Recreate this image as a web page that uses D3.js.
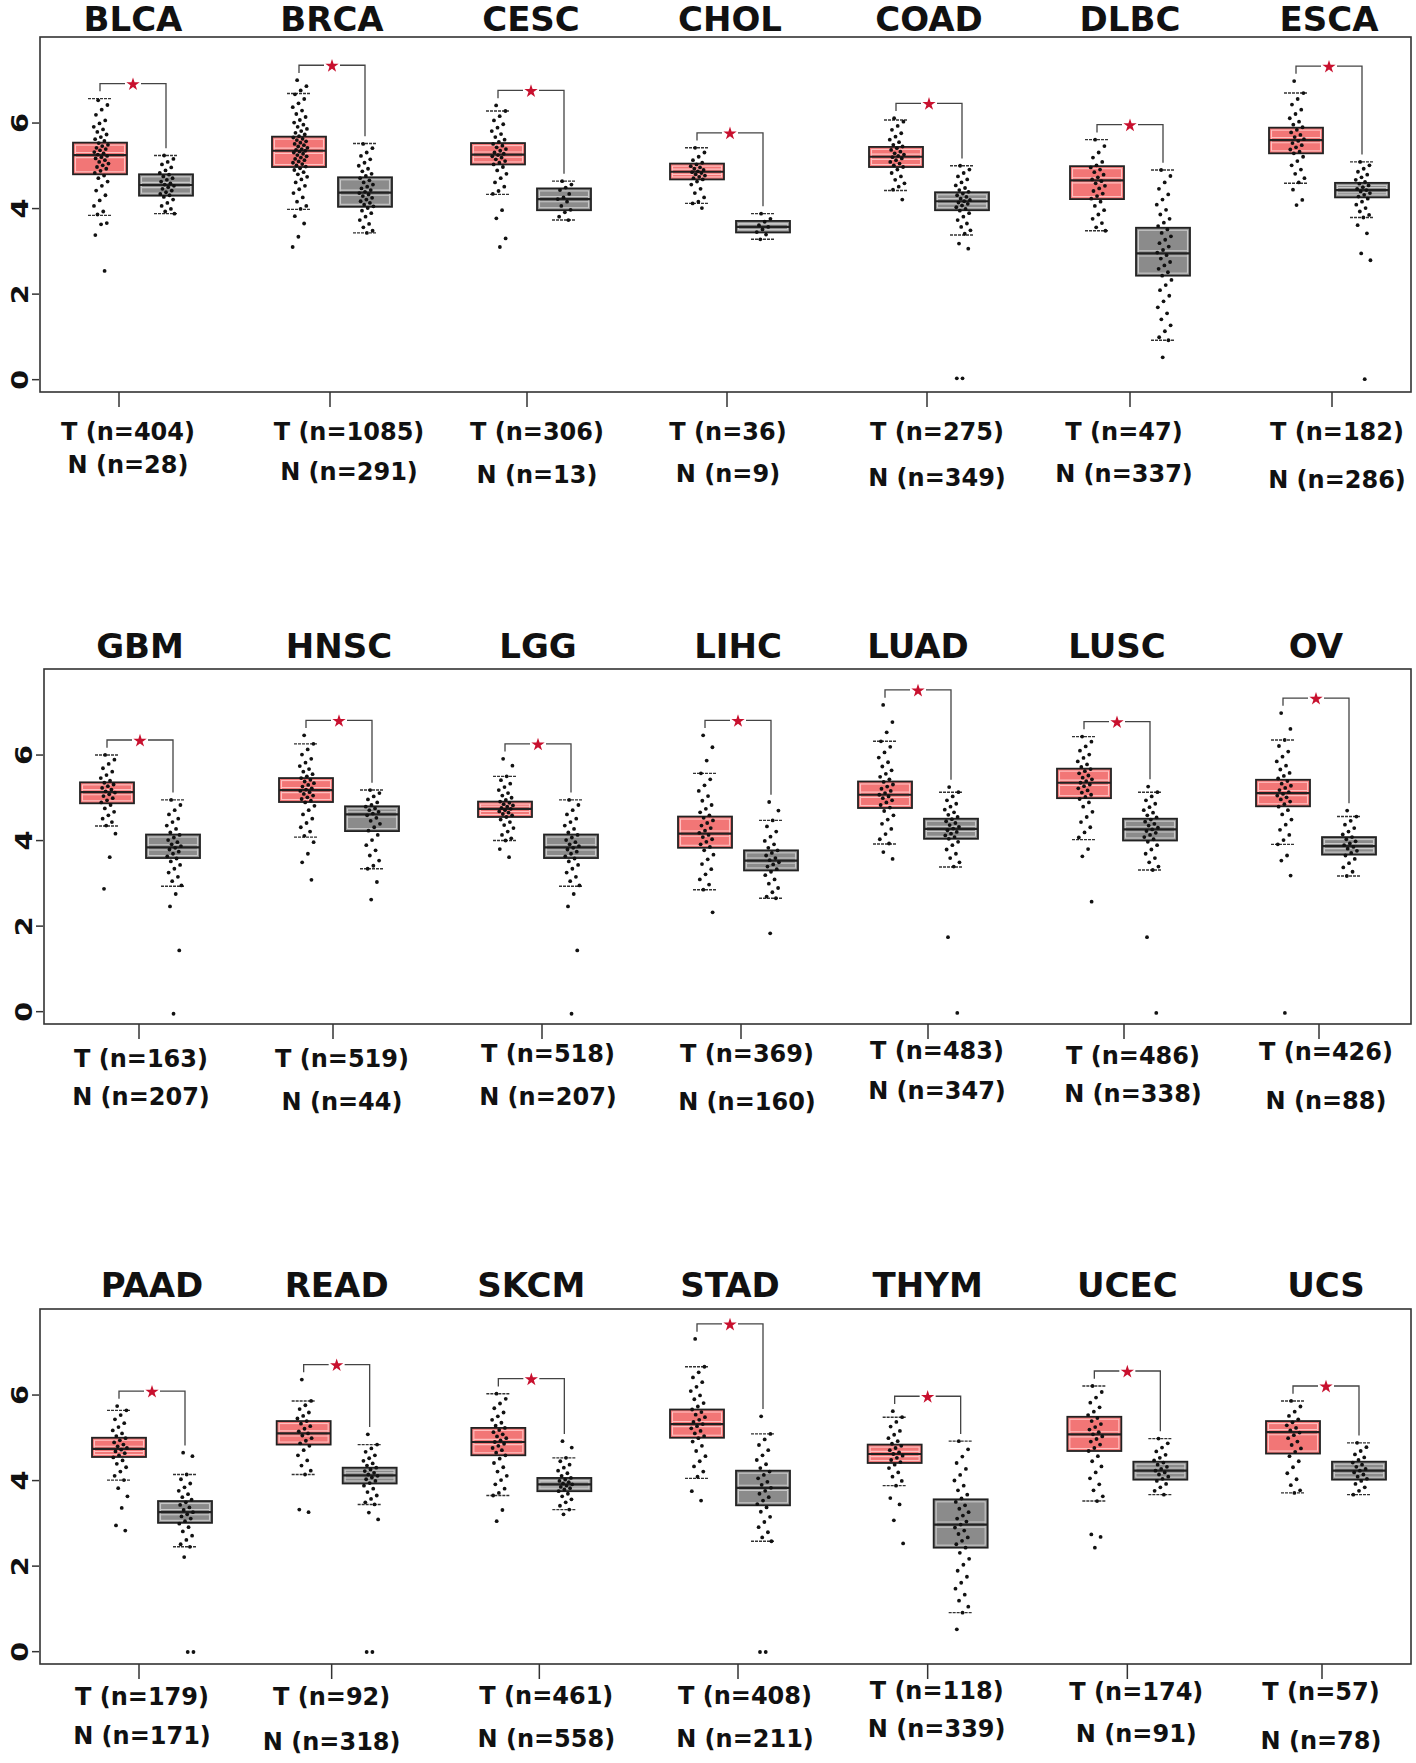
<!DOCTYPE html>
<html><head><meta charset="utf-8">
<script src="https://cdn.jsdelivr.net/npm/d3@7"></script>
<style>body{margin:0;background:#fff}svg{display:block}</style>
</head><body>
<script>
// ---------------- DATA ----------------
const cancers = ["BLCA","BRCA","CESC","CHOL","COAD","DLBC","ESCA",
                 "GBM","HNSC","LGG","LIHC","LUAD","LUSC","OV",
                 "PAAD","READ","SKCM","STAD","THYM","UCEC","UCS"];
const tumorN  = [404,1085,306,36,275,47,182,163,519,518,369,483,486,426,179,92,461,408,118,174,57];
const normalN = [28,291,13,9,349,337,286,207,44,207,160,347,338,88,171,318,558,211,339,91,78];
const yTickValues = [0,2,4,6];

// box stats: [lower whisker, Q1, median, Q3, upper whisker]
const tumorBox = [
 [3.83,4.79,5.24,5.53,6.56],[3.97,4.96,5.34,5.67,6.68],[4.32,5.02,5.25,5.52,6.27],[4.11,4.67,4.85,5.04,5.41],
 [4.41,4.96,5.20,5.43,6.06],[3.47,4.21,4.65,4.98,5.60],[4.58,5.28,5.59,5.88,6.69],
 [4.33,4.86,5.12,5.35,5.99],[4.07,4.89,5.17,5.45,6.25],[3.99,4.54,4.73,4.90,5.49],[2.84,3.82,4.15,4.55,5.56],
 [3.91,4.75,5.06,5.37,6.31],[4.01,4.98,5.34,5.67,6.42],[3.90,4.79,5.10,5.41,6.34],
 [4.00,4.54,4.73,4.99,5.63],[4.13,4.83,5.09,5.38,5.85],[3.64,4.58,4.89,5.22,6.02],[4.04,4.99,5.31,5.65,6.65],
 [3.87,4.40,4.61,4.83,5.47],[3.51,4.68,5.07,5.48,6.20],[3.70,4.62,5.12,5.38,5.85]];
const normalBox = [
 [3.87,4.29,4.54,4.79,5.23],[3.42,4.03,4.36,4.72,5.51],[3.72,3.95,4.21,4.46,4.63],[3.27,3.43,3.56,3.70,3.87],
 [3.37,3.95,4.16,4.37,4.99],[0.91,2.42,2.94,3.54,4.89],[3.78,4.25,4.42,4.59,5.08],
 [2.92,3.58,3.83,4.13,4.94],[3.33,4.21,4.60,4.79,5.17],[2.92,3.58,3.83,4.13,4.94],[2.64,3.29,3.52,3.76,4.46],
 [3.37,4.03,4.26,4.50,5.12],[3.30,3.99,4.25,4.50,5.12],[3.16,3.66,3.86,4.07,4.55],
 [2.44,3.00,3.25,3.51,4.13],[3.43,3.92,4.11,4.29,4.83],[3.31,3.74,3.90,4.05,4.52],[2.57,3.41,3.82,4.22,5.08],
 [0.90,2.42,2.96,3.55,4.91],[3.66,4.01,4.22,4.43,4.97],[3.66,4.01,4.22,4.43,4.87]];

// individual sample points
const tumorDots = [
 [6.52,6.41,6.30,6.18,6.05,5.98,5.90,5.84,5.78,5.72,5.66,5.61,5.57,5.52,5.48,5.45,5.41,5.38,5.35,5.31,5.28,5.25,5.22,5.19,5.16,5.12,5.08,5.04,5.00,4.96,4.92,4.87,4.82,4.76,4.70,4.62,4.52,4.41,4.30,4.18,4.05,3.92,3.85,3.65,3.62,3.37,2.53],
 [6.99,6.85,6.75,6.66,6.55,6.45,6.36,6.28,6.20,6.13,6.06,6.00,5.95,5.90,5.85,5.80,5.76,5.72,5.68,5.65,5.62,5.59,5.56,5.53,5.50,5.47,5.44,5.41,5.38,5.36,5.34,5.32,5.30,5.27,5.24,5.21,5.18,5.15,5.12,5.09,5.06,5.03,5.00,4.97,4.93,4.89,4.84,4.79,4.73,4.67,4.60,4.52,4.44,4.35,4.25,4.15,4.05,3.98,3.81,3.64,3.33,3.09],
 [6.40,6.27,6.15,6.05,5.96,5.88,5.80,5.73,5.66,5.60,5.55,5.50,5.46,5.42,5.38,5.34,5.30,5.27,5.24,5.21,5.18,5.14,5.10,5.06,5.02,4.96,4.88,4.80,4.70,4.60,4.50,4.40,4.33,3.95,3.76,3.29,3.09],
 [5.41,5.30,5.20,5.12,5.06,5.02,4.98,4.95,4.92,4.89,4.86,4.84,4.82,4.79,4.76,4.73,4.70,4.67,4.62,4.55,4.45,4.35,4.25,4.15,4.11,4.00],
 [6.10,6.02,5.92,5.83,5.75,5.67,5.60,5.54,5.48,5.44,5.40,5.36,5.32,5.28,5.25,5.22,5.19,5.16,5.12,5.08,5.04,5.00,4.96,4.90,4.82,4.74,4.66,4.58,4.50,4.43,4.20],
 [5.60,5.45,5.30,5.18,5.08,5.00,4.95,4.90,4.84,4.78,4.72,4.67,4.63,4.58,4.52,4.46,4.40,4.34,4.28,4.22,4.15,4.05,3.95,3.85,3.75,3.65,3.55,3.47],
 [6.97,6.69,6.55,6.42,6.30,6.20,6.10,6.02,5.95,5.89,5.83,5.77,5.71,5.66,5.61,5.57,5.52,5.47,5.42,5.37,5.32,5.28,5.20,5.10,5.00,4.90,4.80,4.70,4.60,4.43,4.19,4.07],
 [5.99,5.88,5.78,5.68,5.60,5.52,5.45,5.39,5.34,5.30,5.26,5.22,5.18,5.14,5.11,5.07,5.03,4.98,4.93,4.88,4.82,4.74,4.66,4.58,4.50,4.42,4.34,4.15,3.60,2.86],
 [6.45,6.25,6.12,6.00,5.90,5.81,5.73,5.66,5.60,5.54,5.49,5.45,5.41,5.37,5.33,5.29,5.25,5.21,5.18,5.15,5.12,5.08,5.04,5.00,4.96,4.92,4.88,4.80,4.70,4.60,4.50,4.40,4.30,4.20,4.10,3.95,3.68,3.48,3.07],
 [5.90,5.74,5.49,5.40,5.32,5.24,5.17,5.10,5.04,4.99,4.94,4.90,4.87,4.84,4.81,4.78,4.75,4.73,4.70,4.67,4.64,4.61,4.58,4.54,4.48,4.42,4.35,4.28,4.20,4.12,4.04,3.99,3.79,3.60],
 [6.45,6.17,5.86,5.56,5.42,5.28,5.15,5.03,4.92,4.82,4.73,4.65,4.58,4.52,4.46,4.40,4.34,4.28,4.22,4.17,4.12,4.07,4.02,3.96,3.90,3.84,3.76,3.66,3.55,3.44,3.32,3.20,3.08,2.96,2.84,2.31],
 [7.16,6.76,6.52,6.31,6.18,6.05,5.93,5.82,5.72,5.63,5.55,5.48,5.42,5.36,5.30,5.25,5.20,5.15,5.10,5.06,5.02,4.98,4.93,4.88,4.82,4.76,4.68,4.58,4.48,4.38,4.26,4.14,4.02,3.92,3.72,3.56],
 [6.42,6.30,6.19,6.09,6.00,5.92,5.84,5.77,5.71,5.66,5.61,5.56,5.51,5.46,5.42,5.38,5.34,5.30,5.26,5.21,5.16,5.11,5.06,5.01,4.96,4.88,4.78,4.66,4.54,4.42,4.30,4.18,4.06,3.79,3.62,2.56],
 [6.97,6.60,6.34,6.20,6.07,5.95,5.84,5.74,5.65,5.57,5.50,5.44,5.38,5.32,5.27,5.22,5.17,5.12,5.08,5.04,5.00,4.95,4.90,4.84,4.78,4.70,4.60,4.48,4.36,4.24,4.12,4.00,3.90,3.64,3.52,3.17,-0.04],
 [5.73,5.63,5.52,5.42,5.33,5.24,5.16,5.09,5.03,4.98,4.93,4.88,4.83,4.79,4.75,4.71,4.67,4.63,4.58,4.53,4.46,4.38,4.30,4.20,4.10,4.00,3.81,3.62,3.35,2.94,2.82],
 [6.35,5.85,5.75,5.66,5.58,5.50,5.44,5.38,5.32,5.26,5.20,5.14,5.09,5.04,4.98,4.92,4.86,4.80,4.70,4.58,4.46,4.34,4.22,4.13,3.31,3.25],
 [6.02,5.90,5.79,5.68,5.58,5.49,5.41,5.34,5.27,5.22,5.17,5.12,5.07,5.02,4.98,4.93,4.89,4.85,4.80,4.75,4.70,4.64,4.58,4.50,4.40,4.30,4.20,4.10,4.00,3.90,3.80,3.70,3.64,3.30,3.04],
 [7.30,6.65,6.52,6.40,6.29,6.18,6.08,5.98,5.89,5.80,5.72,5.65,5.59,5.53,5.47,5.41,5.36,5.31,5.26,5.21,5.15,5.09,5.03,4.98,4.90,4.80,4.68,4.56,4.44,4.32,4.20,4.08,3.74,3.52],
 [5.61,5.47,5.36,5.25,5.15,5.06,4.98,4.91,4.85,4.80,4.75,4.70,4.65,4.61,4.57,4.52,4.47,4.42,4.36,4.28,4.18,4.08,3.98,3.87,3.58,3.43,3.06,2.52],
 [6.20,6.06,5.93,5.81,5.70,5.60,5.52,5.45,5.38,5.31,5.24,5.18,5.12,5.07,5.02,4.96,4.90,4.83,4.75,4.68,4.56,4.44,4.32,4.18,4.04,3.90,3.76,3.62,3.51,2.73,2.67,2.42],
 [5.85,5.72,5.60,5.50,5.42,5.35,5.28,5.22,5.16,5.11,5.05,4.98,4.90,4.82,4.74,4.66,4.56,4.44,4.30,4.16,4.02,3.88,3.76,3.70]];
const normalDots = [
 [5.23,5.15,5.08,5.02,4.95,4.88,4.82,4.78,4.74,4.70,4.66,4.62,4.58,4.55,4.52,4.49,4.45,4.41,4.37,4.33,4.30,4.26,4.20,4.12,4.05,3.98,3.92,3.87],
 [5.50,5.40,5.30,5.22,5.14,5.06,4.99,4.92,4.86,4.80,4.75,4.70,4.65,4.60,4.55,4.50,4.46,4.42,4.38,4.35,4.32,4.28,4.24,4.20,4.16,4.12,4.08,4.04,4.00,3.94,3.88,3.80,3.72,3.63,3.55,3.47,3.42],
 [4.63,4.55,4.48,4.42,4.33,4.25,4.21,4.15,4.05,3.96,3.90,3.80,3.72],
 [3.87,3.75,3.68,3.60,3.56,3.50,3.44,3.38,3.27],
 [4.99,4.90,4.82,4.74,4.67,4.60,4.53,4.47,4.42,4.38,4.34,4.30,4.26,4.22,4.19,4.16,4.13,4.10,4.06,4.02,3.98,3.94,3.88,3.80,3.72,3.64,3.56,3.48,3.40,3.17,3.05,0.02,0.02],
 [4.89,4.75,4.60,4.45,4.32,4.20,4.08,3.96,3.85,3.75,3.66,3.58,3.50,3.42,3.34,3.26,3.18,3.10,3.02,2.96,2.90,2.82,2.74,2.66,2.58,2.50,2.42,2.32,2.20,2.08,1.95,1.82,1.68,1.54,1.40,1.26,1.12,0.98,0.91,0.51],
 [5.08,5.00,4.92,4.85,4.78,4.72,4.66,4.61,4.57,4.53,4.49,4.45,4.42,4.39,4.35,4.31,4.27,4.22,4.15,4.08,4.00,3.92,3.84,3.78,3.60,3.41,2.94,2.78,0.00],
 [4.94,4.82,4.70,4.60,4.50,4.42,4.34,4.26,4.18,4.12,4.06,4.00,3.95,3.90,3.86,3.82,3.78,3.73,3.68,3.62,3.57,3.50,3.42,3.33,3.24,3.14,3.04,2.94,2.74,2.45,1.42,-0.06],
 [5.17,5.10,5.02,4.95,4.88,4.82,4.78,4.74,4.70,4.66,4.62,4.58,4.52,4.45,4.38,4.30,4.22,4.12,4.00,3.88,3.76,3.64,3.52,3.40,3.33,3.02,2.61],
 [4.94,4.82,4.70,4.60,4.50,4.42,4.34,4.26,4.18,4.12,4.06,4.00,3.95,3.90,3.86,3.82,3.78,3.73,3.68,3.62,3.57,3.50,3.42,3.33,3.24,3.14,3.04,2.94,2.74,2.45,1.42,-0.06],
 [4.89,4.69,4.46,4.32,4.20,4.08,3.98,3.90,3.82,3.76,3.70,3.64,3.58,3.53,3.48,3.43,3.38,3.32,3.26,3.18,3.08,2.98,2.88,2.78,2.68,2.64,1.82],
 [5.24,5.12,5.02,4.93,4.85,4.78,4.71,4.65,4.59,4.54,4.49,4.44,4.40,4.35,4.31,4.27,4.23,4.19,4.15,4.11,4.07,4.03,3.96,3.88,3.78,3.68,3.58,3.48,3.38,1.73,-0.04],
 [5.25,5.12,5.02,4.93,4.85,4.77,4.70,4.64,4.58,4.53,4.48,4.43,4.38,4.34,4.29,4.25,4.21,4.17,4.12,4.07,4.02,3.96,3.88,3.78,3.68,3.58,3.48,3.38,3.30,1.73,-0.04],
 [4.69,4.55,4.45,4.36,4.28,4.20,4.13,4.07,4.02,3.97,3.92,3.88,3.84,3.80,3.75,3.70,3.64,3.56,3.46,3.36,3.26,3.16],
 [4.64,4.56,4.13,4.02,3.92,3.83,3.75,3.67,3.60,3.54,3.48,3.42,3.36,3.30,3.25,3.20,3.15,3.10,3.04,2.98,2.90,2.80,2.70,2.60,2.50,2.44,2.20,-0.02,-0.02],
 [5.07,4.83,4.74,4.66,4.58,4.51,4.45,4.39,4.34,4.29,4.25,4.21,4.17,4.13,4.10,4.06,4.02,3.98,3.93,3.87,3.80,3.72,3.64,3.56,3.48,3.43,3.24,3.08,-0.02,-0.02],
 [4.91,4.76,4.52,4.44,4.36,4.29,4.22,4.16,4.10,4.05,4.01,3.98,3.95,3.92,3.90,3.87,3.84,3.81,3.78,3.74,3.68,3.62,3.55,3.48,3.40,3.31,3.20],
 [5.49,5.08,4.95,4.82,4.70,4.58,4.47,4.37,4.28,4.20,4.12,4.04,3.96,3.89,3.82,3.75,3.68,3.60,3.52,3.44,3.36,3.26,3.14,3.02,2.90,2.78,2.66,2.57,-0.02,-0.02],
 [4.91,4.72,4.55,4.40,4.26,4.12,3.99,3.87,3.76,3.66,3.57,3.49,3.41,3.33,3.25,3.17,3.10,3.03,2.96,2.89,2.82,2.74,2.66,2.58,2.50,2.42,2.30,2.16,2.02,1.88,1.74,1.60,1.46,1.32,1.18,1.04,0.90,0.51],
 [4.97,4.86,4.76,4.67,4.59,4.52,4.46,4.41,4.36,4.31,4.26,4.22,4.18,4.13,4.08,4.03,3.98,3.91,3.83,3.75,3.66],
 [4.87,4.77,4.68,4.60,4.53,4.47,4.41,4.36,4.31,4.26,4.22,4.18,4.13,4.08,4.03,3.98,3.91,3.83,3.75,3.66]];

// ---------------- LAYOUT ----------------
const W = 1416, H = 1763;
const rows = [
  {top: 37,   left: 40, range: [133, 1327], titleY: 31,
   nudge: [0,0,0,0,0,2,2], tickDx: [-14,-2,-4,-3,-2,0,3], labelDx: [-5,17,6,-2,8,-6,8],
   tY: [440,440,440,440,440,440,440], nY: [473,480,483,482,486,482,488]},
  {top: 669,  left: 44, range: [140, 1316], titleY: 658,
   nudge: [0,3,6,10,-6,-3,0], tickDx: [-1,-6,4,3,10,7,3], labelDx: [1,3,10,9,19,16,10],
   tY: [1067,1067,1062,1062,1059,1064,1060], nY: [1105,1110,1105,1110,1099,1102,1109]},
  {top: 1309, left: 40, range: [140, 1326], titleY: 1297,
   nudge: [12,-1,-4,-3,-3,-1,0], tickDx: [-13,-5,8,8,0,0,-4], labelDx: [-10,-5,15,15,9,9,-5],
   tY: [1705,1705,1704,1704,1699,1700,1700], nY: [1744,1750,1747,1747,1737,1742,1749]}
];
const frameRight = 1411, frameH = 355;
const boxOff = 33, boxHalf = 27, capHalf = 12, jitter = 7.5;
const FONT = "'DejaVu Sans', 'Liberation Sans', sans-serif";
const tumorFill = "#f27676", tumorLight = "#ffc0c0";
const normalFill = "#8b8b8b", normalLight = "#c9c9c9";
const ink = "#222";

const svg = d3.select("body").append("svg").attr("width", W).attr("height", H)
  .style("font-family", FONT);
svg.append("rect").attr("width", W).attr("height", H).attr("fill", "#fff");

rows.forEach((row, r) => {
  const names = cancers.slice(r * 7, r * 7 + 7);
  const x = d3.scalePoint().domain(names).range(row.range);
  const y = d3.scaleLinear().domain([-0.3, 8]).range([row.top + frameH, row.top]);
  const g = svg.append("g");

  // frame
  g.append("rect").attr("x", row.left).attr("y", row.top)
    .attr("width", frameRight - row.left).attr("height", frameH)
    .attr("fill", "none").attr("stroke", "#333").attr("stroke-width", 1.6);

  // y axis
  const ax = g.append("g").attr("transform", `translate(${row.left - 1},0)`)
    .call(d3.axisLeft(y).tickValues(yTickValues).tickSize(7).tickFormat(d3.format("d")));
  ax.select(".domain").remove();
  ax.selectAll(".tick line").attr("stroke", "#333").attr("stroke-width", 1.5);
  ax.selectAll(".tick text")
    .attr("x", null).attr("dy", null).attr("y", null)
    .attr("transform", "translate(-11,0) rotate(-90)")
    .attr("text-anchor", "middle")
    .attr("font-family", FONT).attr("font-weight", "bold").attr("font-size", 23)
    .attr("fill", "#111")
    .attr("textLength", 20).attr("lengthAdjust", "spacingAndGlyphs");

  names.forEach((name, j) => {
    const k = r * 7 + j;
    const cx = x(name) + row.nudge[j];
    const groups = [
      {c: cx - boxOff, s: tumorBox[k], dots: tumorDots[k], fill: tumorFill, light: tumorLight},
      {c: cx + boxOff, s: normalBox[k], dots: normalDots[k], fill: normalFill, light: normalLight}
    ];
    // boxes
    groups.forEach(gr => {
      const [lo, q1, md, q3, hi] = gr.s;
      const bx = gr.c - boxHalf, bw = boxHalf * 2;
      g.append("rect").attr("x", bx).attr("y", y(q3)).attr("width", bw).attr("height", y(q1) - y(q3))
        .attr("fill", gr.fill).attr("stroke", ink).attr("stroke-width", 1.8);
      g.append("rect").attr("x", bx + 2.5).attr("y", y(q3) + 2.5).attr("width", bw - 5)
        .attr("height", Math.max(0, y(q1) - y(q3) - 5))
        .attr("fill", "none").attr("stroke", gr.light).attr("stroke-width", 1.1);
      [-2.6, 2.6].forEach(o => g.append("line").attr("x1", bx + 2.5).attr("x2", bx + bw - 2.5)
        .attr("y1", y(md) + o).attr("y2", y(md) + o).attr("stroke", gr.light).attr("stroke-width", 1.1));
      g.append("line").attr("x1", bx).attr("x2", bx + bw).attr("y1", y(md)).attr("y2", y(md))
        .attr("stroke", ink).attr("stroke-width", 2.2);
      [lo, hi].forEach(v => g.append("line").attr("x1", gr.c - capHalf).attr("x2", gr.c + capHalf)
        .attr("y1", y(v)).attr("y2", y(v)).attr("stroke", "#333").attr("stroke-width", 1.4)
        .attr("stroke-dasharray", "3,1"));
    });
    // dots
    groups.forEach(gr => {
      g.append("g").selectAll("circle").data(gr.dots).join("circle")
        .attr("cx", (d, i) => gr.c + 1 + (((i * 0.618034 + 0.31) % 1) - 0.5) * 2 * jitter)
        .attr("cy", d => y(d)).attr("r", 1.9).attr("fill", "#111");
    });
    // significance bracket
    const maxT = Math.max(tumorBox[k][4], d3.max(tumorDots[k]));
    const maxN = Math.max(normalBox[k][4], d3.max(normalDots[k]));
    const top = Math.max(maxT, maxN) + 0.35;
    const xl = cx - boxOff, xr = cx + boxOff, yt = y(top);
    const br = g.append("g").attr("stroke", "#444").attr("stroke-width", 1.3).attr("fill", "none");
    br.append("path").attr("d", `M${xl},${y(maxT + 0.17)}V${yt}H${cx - 8}`);
    br.append("path").attr("d", `M${cx + 8},${yt}H${xr}V${y(maxN + 0.17)}`);
    g.append("path").attr("d", d3.symbol(d3.symbolStar, 55)())
      .attr("transform", `translate(${cx},${yt + 0.8})`).attr("fill", "#c8102e");

    // x tick
    const tx = cx + row.tickDx[j];
    g.append("line").attr("x1", tx).attr("x2", tx).attr("y1", row.top + frameH)
      .attr("y2", row.top + frameH + 15).attr("stroke", "#333").attr("stroke-width", 1.5);

    // title
    g.append("text").attr("x", cx).attr("y", row.titleY).attr("text-anchor", "middle")
      .attr("font-weight", "bold").attr("font-size", 34).attr("fill", "#111").text(name);

    // sample size labels
    const lx = cx + row.labelDx[j];
    g.append("text").attr("x", lx).attr("y", row.tY[j]).attr("text-anchor", "middle")
      .attr("font-weight", "bold").attr("font-size", 24).attr("fill", "#111")
      .text(`T (n=${tumorN[k]})`);
    g.append("text").attr("x", lx).attr("y", row.nY[j]).attr("text-anchor", "middle")
      .attr("font-weight", "bold").attr("font-size", 24).attr("fill", "#111")
      .text(`N (n=${normalN[k]})`);
  });
});
</script>
</body></html>
